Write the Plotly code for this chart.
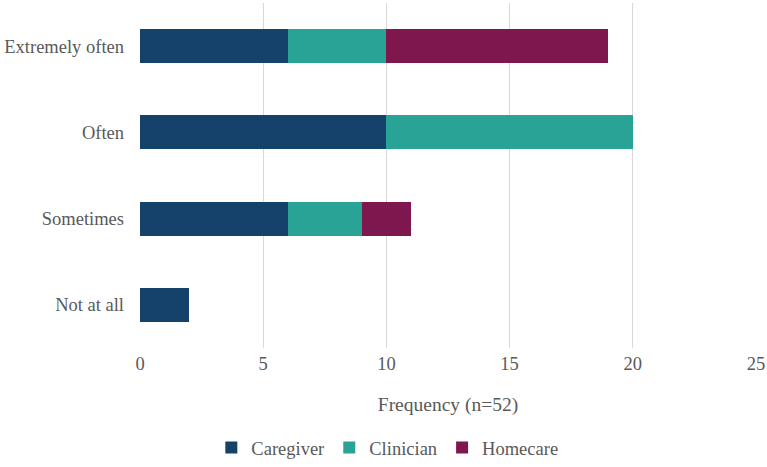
import plotly.graph_objects as go

categories = ["Not at all", "Sometimes", "Often", "Extremely often"]
caregiver = [2, 6, 10, 6]
clinician = [0, 3, 10, 4]
homecare = [0, 2, 0, 9]
x_ticks = [0, 5, 10, 15, 20, 25]

series = [
    ("Caregiver", caregiver, "#15426B"),
    ("Clinician", clinician, "#29A396"),
    ("Homecare", homecare, "#7F174F"),
]

fig = go.Figure()
for name, vals, color in series:
    fig.add_trace(go.Bar(
        y=categories, x=vals, name=name, orientation="h",
        marker=dict(color=color, line=dict(width=0)),
        width=0.395,
    ))

font_family = "Liberation Serif"
fig.update_layout(
    barmode="stack",
    width=767, height=467,
    margin=dict(l=140, r=11, t=3, b=119),
    plot_bgcolor="white", paper_bgcolor="white",
    font=dict(family=font_family, color="#595959", size=18),
    xaxis=dict(
        range=[0, 25], tickvals=x_ticks, showgrid=True, gridcolor="#D9D9D9",
        gridwidth=1, zeroline=False, showline=False,
        tickfont=dict(family=font_family, size=18.5), ticks="", ticklabelstandoff=2,
        title=dict(text="Frequency (n=52)", font=dict(family=font_family, size=19.5), standoff=24),
    ),
    yaxis=dict(
        categoryorder="array", categoryarray=categories,
        showgrid=False, showline=False, zeroline=False,
        tickfont=dict(family=font_family, size=18.5), ticks="", ticklabelstandoff=15,
    ),
    legend=dict(
        orientation="h", xref="container", yref="container",
        x=0.505, xanchor="center", y=-0.012, yanchor="bottom",
        font=dict(family=font_family, size=18.5), traceorder="normal",
        itemwidth=30, tracegroupgap=0,
    ),
    showlegend=True,
)

fig.write_html("out.html")
